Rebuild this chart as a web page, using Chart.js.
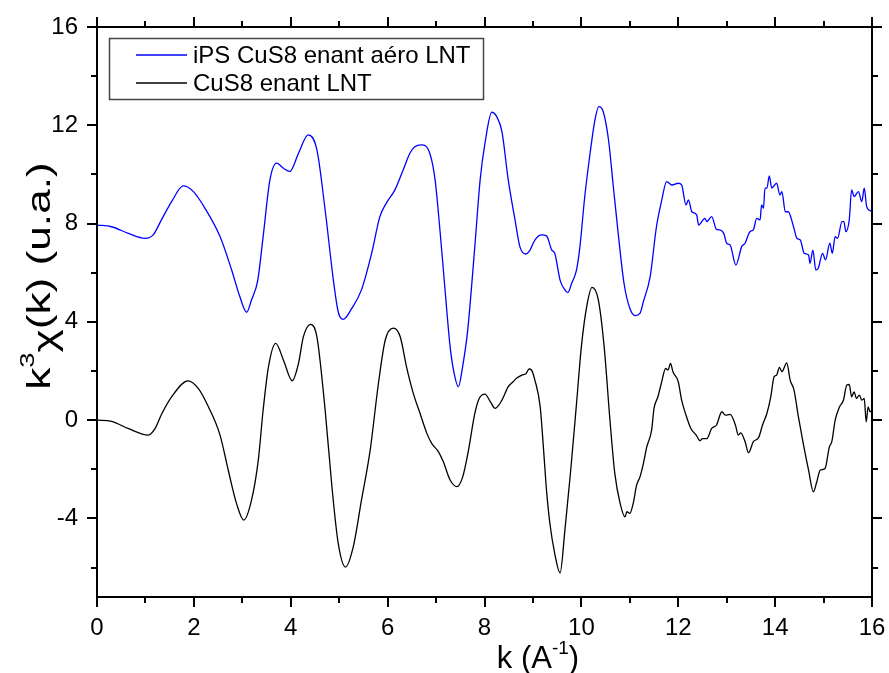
<!DOCTYPE html>
<html>
<head>
<meta charset="utf-8">
<script src="https://cdn.jsdelivr.net/npm/chart.js@4/dist/chart.umd.min.js"></script>
<style>
html,body{margin:0;padding:0;background:#fff;}
canvas{display:block;}
</style>
</head>
<body>
<canvas id="c" width="889" height="673" style="width:889px;height:673px"></canvas>
<script>
// ---- data ----
const seriesNames = ['iPS CuS8 enant aéro LNT', 'CuS8 enant LNT'];
const seriesColors = ['#0000FF', '#000000'];

const kBlue = [0,0.30,0.65,0.99,1.16,1.33,1.54,1.78,1.99,2.23,2.54,2.78,2.95,3.09,3.19,3.32,3.43,3.57,3.71,3.85,3.98,4.16,4.36,4.54,4.71,4.88,4.98,5.08,5.26,5.46,5.67,5.84,5.98,6.15,6.32,6.46,6.56,6.70,6.87,6.98,7.08,7.18,7.29,7.36,7.46,7.55,7.65,7.80,7.91,8.01,8.15,8.25,8.36,8.49,8.63,8.73,8.85,8.94,9.04,9.18,9.28,9.39,9.45,9.56,9.66,9.72,9.80,9.90,9.97,10.07,10.18,10.28,10.36,10.45,10.56,10.66,10.76,10.88,11.00,11.11,11.21,11.28,11.42,11.55,11.66,11.76,11.87,12.00,12.07,12.16,12.21,12.28,12.38,12.42,12.55,12.59,12.69,12.79,12.86,12.94,13.00,13.07,13.19,13.31,13.38,13.48,13.55,13.62,13.69,13.72,13.76,13.79,13.83,13.88,13.93,14.03,14.10,14.14,14.21,14.27,14.38,14.45,14.52,14.60,14.69,14.72,14.78,14.84,14.89,14.98,15.04,15.13,15.18,15.24,15.29,15.38,15.42,15.46,15.53,15.58,15.63,15.72,15.79,15.84,15.89,15.98,16.00];
const chiBlue = [7.94,7.87,7.60,7.40,7.54,8.15,8.89,9.53,9.30,8.62,7.47,6.11,5.02,4.39,4.89,5.70,7.47,9.78,10.46,10.25,10.12,10.86,11.61,11.00,8.55,5.70,4.41,4.10,4.55,5.30,6.79,8.28,8.85,9.37,10.18,10.86,11.13,11.20,10.86,9.78,7.74,5.43,2.99,2.04,1.36,2.20,3.60,7.06,9.78,11.27,12.53,12.36,11.74,9.78,8.15,7.06,6.76,6.92,7.33,7.54,7.50,6.92,6.79,5.70,5.30,5.19,5.57,6.11,7.06,9.10,10.86,12.22,12.76,12.56,11.41,9.50,7.60,5.57,4.55,4.25,4.34,4.82,5.84,7.87,8.96,9.71,9.57,9.64,9.57,8.76,8.96,8.48,8.35,7.94,8.21,8.08,8.28,7.76,7.74,7.60,7.20,7.13,6.31,7.06,7.20,7.67,7.74,8.21,8.15,8.76,8.62,9.44,9.44,9.94,9.44,9.64,9.16,9.30,8.48,8.48,7.87,7.40,7.33,6.79,6.72,6.38,6.92,6.11,6.18,6.79,6.52,7.20,6.79,7.47,7.40,8.08,8.08,7.67,8.15,9.37,9.10,9.30,8.89,9.44,8.69,8.51,8.50];

const kBlack = [0,0.30,0.65,1.06,1.20,1.34,1.54,1.88,2.09,2.30,2.54,2.71,2.88,3.03,3.19,3.33,3.43,3.54,3.69,3.85,4.03,4.16,4.26,4.41,4.54,4.71,4.85,4.98,5.13,5.29,5.46,5.64,5.81,5.95,6.12,6.26,6.39,6.53,6.67,6.81,6.91,7.05,7.15,7.29,7.43,7.55,7.67,7.80,7.89,8.01,8.12,8.22,8.36,8.49,8.59,8.66,8.77,8.86,8.92,8.97,9.04,9.15,9.22,9.28,9.35,9.45,9.56,9.66,9.78,9.90,10.00,10.11,10.22,10.35,10.47,10.59,10.69,10.80,10.90,10.94,11.00,11.07,11.14,11.21,11.28,11.35,11.45,11.50,11.58,11.65,11.74,11.79,11.84,11.89,12.00,12.07,12.16,12.26,12.37,12.45,12.50,12.59,12.69,12.79,12.90,12.97,13.07,13.18,13.24,13.29,13.38,13.45,13.55,13.66,13.74,13.83,13.91,13.98,14.03,14.09,14.14,14.24,14.31,14.39,14.48,14.58,14.69,14.79,14.86,14.93,15.03,15.12,15.17,15.24,15.33,15.41,15.48,15.53,15.58,15.63,15.68,15.74,15.79,15.84,15.88,15.92,15.96,16.00];
const chiBlack = [0,-0.05,-0.35,-0.61,-0.34,0.27,0.95,1.60,1.29,0.54,-0.61,-2.04,-3.39,-4.07,-3.26,-1.63,0.41,2.17,3.12,2.44,1.60,2.31,3.39,3.90,3.39,0.41,-2.71,-5.02,-5.98,-5.16,-3.26,-1.22,1.49,3.25,3.74,3.39,2.17,1.09,0.27,-0.54,-0.95,-1.29,-1.70,-2.44,-2.71,-2.31,-1.22,0.27,0.88,1.06,0.75,0.48,0.81,1.36,1.56,1.70,1.83,1.90,2.08,2.04,1.63,0.54,-1.22,-2.85,-4.21,-5.43,-6.22,-4.48,-2.04,0.68,2.99,4.62,5.40,4.89,2.99,0,-2.17,-3.39,-3.94,-3.73,-3.80,-3.39,-2.65,-2.31,-1.77,-1.09,-0.41,0.48,0.95,1.49,2.10,2.04,2.31,1.97,1.56,0.81,0.20,-0.34,-0.61,-0.84,-0.75,-0.75,-0.34,-0.20,0.34,0.20,0.23,-0.20,-0.61,-0.52,-0.88,-1.33,-0.88,-0.71,-0.20,0.27,0.95,1.77,1.83,2.15,1.97,2.33,1.63,1.22,0.14,-0.95,-2.04,-2.92,-2.51,-2.04,-1.97,-1.09,-0.88,0,0.54,0.81,1.43,1.45,0.95,1.15,0.88,1.02,0.81,0.88,-0.07,0.54,0.34,0.40];

const xTickLabels = [0,2,4,6,8,10,12,14,16];
const xMinorTicks = [1,3,5,7,9,11,13,15];
const yTickLabels = [-4,0,4,8,12,16];
const yMinorTicks = [-6,-2,2,6,10,14];
const xRange = [0,16];
const yRange = [-7.2,16];

const FONT = '"Liberation Sans", Arial, sans-serif';

function pts(xs, ys){ return xs.map((v,i)=>({x:v, y:ys[i]})); }

const framePlugin = {
  id:'frame',
  afterDraw(chart){
    const {ctx, chartArea:a, scales:{x,y}} = chart;
    ctx.save();
    ctx.strokeStyle = '#000';
    ctx.lineWidth = 2;
    ctx.strokeRect(a.left, a.top, a.right-a.left, a.bottom-a.top);
    const seg=(x1,y1,x2,y2)=>{ctx.beginPath();ctx.moveTo(x1,y1);ctx.lineTo(x2,y2);ctx.stroke();};
    xTickLabels.forEach(v=>{const p=Math.round(x.getPixelForValue(v)); seg(p,a.bottom,p,a.bottom+10); seg(p,a.top,p,a.top-10);});
    xMinorTicks.forEach(v=>{const p=Math.round(x.getPixelForValue(v)); seg(p,a.bottom,p,a.bottom+6); seg(p,a.top,p,a.top-6);});
    yTickLabels.forEach(v=>{const p=Math.round(y.getPixelForValue(v)); seg(a.left,p,a.left-10,p); seg(a.right,p,a.right+10,p);});
    yMinorTicks.forEach(v=>{const p=Math.round(y.getPixelForValue(v)); seg(a.left,p,a.left-6,p); seg(a.right,p,a.right+6,p);});
    ctx.restore();
  }
};

const legendPlugin = {
  id:'boxLegend',
  afterDraw(chart){
    const ctx = chart.ctx;
    ctx.save();
    ctx.strokeStyle = '#444';
    ctx.lineWidth = 1.5;
    ctx.strokeRect(109.5, 38.5, 374, 61);
    ctx.font = '24px ' + FONT;
    ctx.textBaseline = 'middle';
    ctx.fillStyle = '#000';
    chart.data.datasets.forEach((ds,i)=>{
      const yy = 55 + i*28;
      ctx.strokeStyle = ds.borderColor;
      ctx.lineWidth = 1.3;
      ctx.beginPath(); ctx.moveTo(136, yy); ctx.lineTo(187, yy); ctx.stroke();
      ctx.fillText(ds.label, 193, yy+1);
    });
    ctx.restore();
  }
};

const titlePlugin = {
  id:'axisTitles',
  afterDraw(chart){
    const ctx = chart.ctx;
    ctx.save();
    ctx.fillStyle = '#000';
    ctx.textBaseline = 'alphabetic';
    // x title: k (A^-1)
    let big = '31px ' + FONT, small = '19px ' + FONT;
    ctx.font = big; const w1 = ctx.measureText('k (A').width;
    ctx.font = small; const w2 = ctx.measureText('-1').width;
    ctx.font = big; const w3 = ctx.measureText(')').width;
    let x0 = 538 - (w1+w2+w3)/2, by = 668;
    ctx.font = big; ctx.fillText('k (A', x0, by);
    ctx.font = small; ctx.fillText('-1', x0+w1, by-14);
    ctx.font = big; ctx.fillText(')', x0+w1+w2, by);
    // y title: k^3 chi(k) (u.a.)
    big = '34px ' + FONT; small = '21px ' + FONT;
    ctx.translate(50, 276);
    ctx.rotate(-Math.PI/2);
    ctx.scale(1.3, 1);
    const parts = [['k', big, 0], ['3', small, -16], ['\u03c7', big, 6], ['(k) (u.a.)', big, 0]];
    let tot = 0; parts.forEach(p=>{ctx.font=p[1]; tot += ctx.measureText(p[0]).width;});
    let cx = -tot/2;
    parts.forEach(p=>{ctx.font=p[1]; ctx.fillText(p[0], cx, p[2]); cx += ctx.measureText(p[0]).width;});
    ctx.restore();
  }
};

new Chart(document.getElementById('c'), {
  type:'line',
  data:{
    datasets:[
      {label:seriesNames[0], data:pts(kBlue, chiBlue), borderColor:seriesColors[0], borderWidth:1.3, pointRadius:0, cubicInterpolationMode:'monotone', fill:false},
      {label:seriesNames[1], data:pts(kBlack, chiBlack), borderColor:seriesColors[1], borderWidth:1.3, pointRadius:0, cubicInterpolationMode:'monotone', fill:false}
    ]
  },
  options:{
    responsive:false,
    devicePixelRatio:1,
    animation:false,
    layout:{padding:{left:0, right:17, top:27, bottom:0}},
    plugins:{legend:{display:false}, tooltip:{enabled:false}},
    scales:{
      x:{
        type:'linear', min:xRange[0], max:xRange[1],
        grid:{display:false, drawTicks:false},
        border:{display:false},
        afterBuildTicks(s){ s.ticks = xTickLabels.map(v=>({value:v})); },
        afterFit(s){ s.height = 76; s.paddingLeft = 0; s.paddingRight = 0; },
        ticks:{font:{family:FONT, size:24}, color:'#000', padding:17, maxRotation:0, autoSkip:false}
      },
      y:{
        type:'linear', min:yRange[0], max:yRange[1],
        grid:{display:false, drawTicks:false},
        border:{display:false},
        afterBuildTicks(s){ s.ticks = yTickLabels.map(v=>({value:v})); },
        afterFit(s){ s.width = 97; s.paddingTop = 0; s.paddingBottom = 0; },
        ticks:{font:{family:FONT, size:24}, color:'#000', padding:19, autoSkip:false}
      }
    }
  },
  plugins:[framePlugin, legendPlugin, titlePlugin]
});
</script>
</body>
</html>
